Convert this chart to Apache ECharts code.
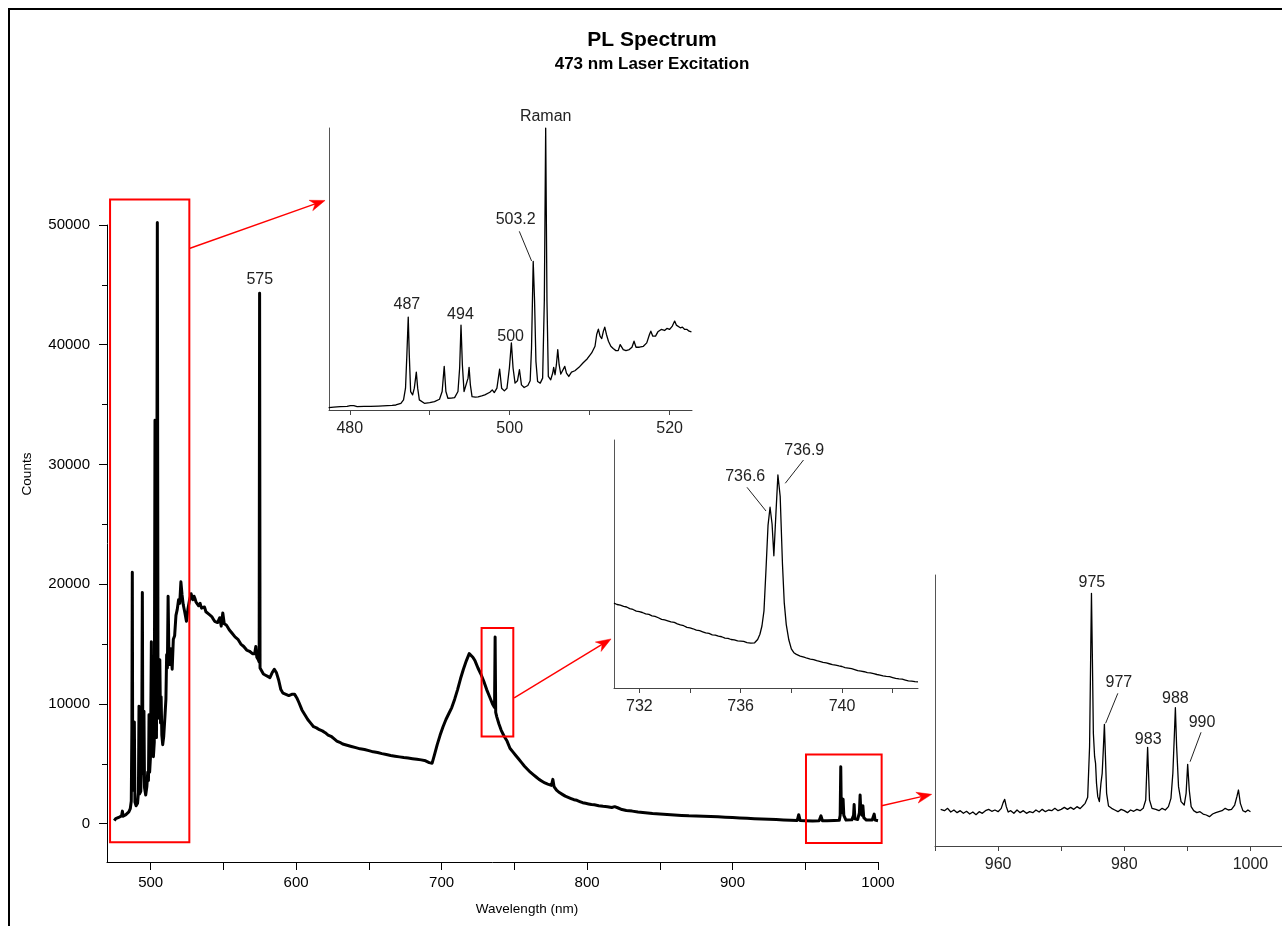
<!DOCTYPE html>
<html>
<head>
<meta charset="utf-8">
<title>PL Spectrum</title>
<script src="https://cdn.jsdelivr.net/npm/echarts@6/dist/echarts.min.js"></script>
<style>
  html, body { margin: 0; padding: 0; background: #ffffff; }
  #chart { width: 1282px; height: 926px; }
</style>
</head>
<body>
<div id="chart"></div>
<script>
// ---- Spectrum data: [wavelength (nm), counts] ----
const mainSpectrum = [
  [475.0,250],[476.0,420],[477.0,380],[478.0,520],[479.0,560],[480.0,650],[480.6,1050],[481.0,620],[482.0,700],[483.0,760],
  [484.0,880],[485.0,980],[486.0,1250],[486.7,1900],[487.1,8000],[487.4,21000],[487.7,3000],[488.3,2800],[488.8,8500],[489.2,1800],
  [490.0,1500],[491.0,1700],[491.6,2600],[492.0,9800],[492.4,2500],[493.2,2700],[493.8,4800],[494.3,19300],[494.7,4200],[495.1,5200],
  [495.4,9400],[495.8,3000],[496.6,2400],[497.4,3100],[498.0,4300],[498.5,3600],[498.9,9100],[499.3,4300],[499.9,5600],[500.5,15200],
  [500.9,6400],[501.4,9600],[501.9,5600],[502.5,6800],[503.0,33700],[503.4,7400],[504.0,7200],[504.6,50200],[505.1,8800],[505.5,12100],
  [505.9,9400],[506.3,13700],[506.8,8400],[507.2,10600],[507.7,7400],[508.3,6600],[509.0,7300],[509.8,8900],[510.5,10400],[511.0,14100],
  [511.5,13000],[512.0,19000],[512.5,14600],[513.3,13300],[514.0,14600],[514.8,12900],[515.6,15400],[516.5,15700],[517.4,17400],[518.3,17900],
  [519.2,18700],[520.0,18400],[520.8,20200],[521.6,19100],[522.4,18300],[523.4,17700],[524.6,16900],[525.6,17900],[526.6,18600],[527.8,19200],
  [529.0,18700],[529.8,19000],[530.5,18800],[531.2,18500],[532.0,18600],[533.0,18200],[534.0,18400],[535.0,18000],[536.0,17900],[537.0,18100],
  [538.0,17700],[539.0,17800],[540.0,17500],[541.0,17500],[542.0,17300],[543.0,17100],[544.0,16900],[545.0,17000],[546.0,16800],[547.0,16900],
  [547.5,17200],[548.5,16500],[549.6,17600],[550.6,16700],[551.3,16800],[552.0,16600],[553.0,16400],[554.0,16200],[555.0,16200],[556.0,15900],
  [557.0,15900],[558.0,15600],[559.0,15600],[560.0,15400],[561.0,15300],[562.0,15000],[563.0,15000],[564.0,14800],[565.0,14700],[566.0,14500],
  [567.0,14600],[568.0,14400],[569.0,14400],[570.0,14200],[571.5,14200],[572.3,14800],[573.0,13900],[574.0,13700],[574.6,13500],[574.9,44300],
  [575.2,13000],[576.0,12900],[577.5,12500],[579.0,12400],[580.5,12300],[582.0,12200],[583.5,12600],[585.0,12900],[586.5,12600],[588.0,12000],
  [589.5,11200],[591.0,10900],[593.0,10800],[595.0,10700],[597.0,10800],[599.0,10800],[600.5,10500],[602.0,10100],[604.0,9500],[606.0,9100],
  [608.0,8700],[610.0,8400],[612.0,8100],[614.0,8000],[616.0,7850],[618.0,7750],[620.0,7600],[622.0,7400],[624.0,7300],[626.0,7100],
  [628.0,6900],[630.0,6800],[632.0,6650],[635.0,6550],[638.0,6450],[641.0,6350],[644.0,6250],[647.0,6200],[650.0,6100],[653.0,6000],
  [656.0,5950],[659.0,5850],[662.0,5780],[665.0,5700],[668.0,5640],[671.0,5580],[674.0,5520],[677.0,5480],[680.0,5430],[683.0,5380],
  [686.0,5330],[689.0,5250],[691.5,5100],[693.5,5050],[695.0,5700],[697.0,6600],[699.0,7400],[701.0,8100],[703.0,8700],[705.0,9200],
  [707.0,9700],[709.0,10400],[711.0,11200],[713.0,12100],[715.0,12900],[717.0,13600],[719.0,14200],[720.2,14100],[721.5,13900],[723.0,13600],
  [725.0,13000],[727.0,12500],[729.0,11900],[731.0,11200],[733.0,10600],[735.0,10000],[736.4,9700],[736.8,15600],[737.2,9300],[738.0,8900],
  [739.5,8300],[741.0,7800],[743.0,7300],[745.0,6900],[747.0,6300],[749.0,6000],[751.0,5700],[753.0,5400],[755.0,5100],[757.0,4800],
  [759.0,4550],[761.0,4300],[763.0,4100],[765.0,3900],[767.0,3700],[769.0,3550],[771.0,3400],[773.0,3300],[775.5,3200],[776.5,3700],
  [777.3,3100],[779.0,2800],[781.0,2600],[783.0,2450],[785.0,2300],[787.0,2200],[789.0,2100],[791.0,2000],[793.0,1950],[795.0,1850],
  [797.0,1750],[799.0,1700],[801.0,1650],[803.0,1600],[805.0,1580],[808.0,1500],[811.0,1450],[814.0,1420],[817.0,1350],[819.0,1420],
  [821.0,1330],[824.0,1180],[827.0,1100],[831.0,1050],[835.0,980],[840.0,920],[845.0,850],[850.0,800],[855.0,760],[860.0,720],
  [865.0,690],[870.0,660],[875.0,650],[880.0,630],[885.0,600],[890.0,570],[895.0,540],[900.0,510],[905.0,480],[910.0,450],
  [915.0,420],[920.0,400],[925.0,370],[930.0,340],[935.0,310],[940.0,290],[944.5,270],[945.5,750],[946.5,260],[950.0,250],
  [955.0,230],[959.5,250],[960.8,650],[961.8,250],[965.0,240],[970.0,260],[973.4,280],[974.0,700],[974.4,4750],[974.8,900],
  [975.4,1600],[976.0,2050],[976.5,700],[978.0,300],[982.0,320],[983.2,700],[983.6,1600],[984.1,400],[986.0,350],[987.2,900],
  [987.7,2400],[988.2,1000],[989.0,700],[989.6,1500],[990.2,500],[992.0,300],[996.0,300],[997.4,800],[998.0,300],[1000.0,250]
];

// 477-523 nm detail (Raman line and emission lines)
const ramanRegion = [
  [477.35,420],[478.0,520],[478.8,600],[479.66,650],[480.08,770],[480.29,1010],[480.5,770],[480.92,600],[481.8,640],[482.6,660],
  [483.6,700],[484.7,770],[485.3,820],[485.76,890],[486.39,1190],[486.72,1790],[486.97,3870],[487.14,9820],[487.31,16480],[487.44,9820],
  [487.61,3270],[487.86,2680],[488.07,3870],[488.32,6720],[488.49,3870],[488.7,1790],[489.33,1190],[490.0,1300],[490.59,1490],[491.22,1900],
  [491.55,3270],[491.81,7740],[492.02,3270],[492.27,2080],[492.7,2100],[493.11,2200],[493.53,3270],[493.74,7440],[493.91,15050],[494.08,8030],
  [494.29,3270],[494.54,3570],[494.79,5650],[494.92,7560],[495.08,4460],[495.29,2380],[495.7,2300],[496.05,2320],[496.5,2500],[496.89,2680],
  [497.52,3150],[497.82,3570],[498.07,3090],[498.4,3870],[498.74,7260],[498.99,3870],[499.33,3390],[499.66,3870],[499.96,7440],[500.21,11900],
  [500.42,7440],[500.67,4760],[500.97,5180],[501.22,7140],[501.47,4460],[501.81,3990],[502.27,4340],[502.56,5180],[502.73,11000],[502.94,26360],
  [503.11,19340],[503.28,8630],[503.49,5060],[503.82,4760],[504.12,5650],[504.33,19340],[504.5,49980],[504.66,19340],[504.83,5950],[505.13,5360],
  [505.38,6550],[505.5,7560],[505.67,6250],[505.84,8030],[506.01,10710],[506.18,8030],[506.39,6370],[506.64,6550],[506.89,7740],[507.1,6550],
  [507.39,5950],[507.73,6720],[508.15,6960],[508.66,7560],[509.16,8330],[509.71,9100],[510.25,10120],[510.67,11300],[510.88,13390],[511.09,14340],
  [511.3,13090],[511.51,12670],[511.72,13980],[511.89,14700],[512.1,13390],[512.35,12200],[512.65,11300],[512.94,10890],[513.28,10530],[513.57,10530],
  [513.82,11600],[513.99,11720],[514.2,10710],[514.54,10530],[514.96,10710],[515.29,11130],[515.55,12200],[515.8,11130],[516.22,11130],[516.72,11300],
  [517.14,11900],[517.48,13390],[517.65,13980],[517.9,13090],[518.24,13090],[518.53,13860],[518.95,14280],[519.37,14100],[519.66,14460],[520.0,14280],
  [520.34,14880],[520.63,15770],[520.84,15050],[521.09,14880],[521.34,14580],[521.6,14700],[521.89,14280],[522.18,14280],[522.44,13980],[522.73,13860]
];

// 731-743 nm detail (doublet)
const doubletRegion = [
  [731.0,10080],[731.12,10030],[731.25,10010],[731.38,9960],[731.5,9940],[731.62,9880],[731.75,9850],[731.88,9790],[732.0,9770],[732.12,9740],
  [732.25,9690],[732.38,9670],[732.5,9620],[732.62,9600],[732.75,9550],[732.88,9490],[733.0,9470],[733.12,9440],[733.25,9400],[733.38,9380],
  [733.5,9330],[733.62,9290],[733.75,9260],[733.88,9200],[734.0,9180],[734.12,9150],[734.25,9100],[734.38,9080],[734.5,9040],[734.62,9000],
  [734.75,8980],[734.88,8930],[735.0,8920],[735.12,8880],[735.25,8860],[735.38,8810],[735.5,8800],[735.62,8760],[735.75,8750],[735.88,8710],
  [736.0,8700],[736.12,8690],[736.25,8650],[736.4,8630],[736.55,8640],[736.67,8760],[736.76,8950],[736.84,9250],[736.92,9800],[737.0,11300],
  [737.08,12900],[737.16,13560],[737.24,12950],[737.31,11800],[737.39,13300],[737.47,14730],[737.56,13950],[737.65,11500],[737.72,10100],[737.8,9300],
  [737.9,8750],[738.0,8420],[738.1,8280],[738.2,8220],[738.35,8160],[738.5,8120],[738.62,8080],[738.75,8050],[738.88,8030],[739.0,7990],
  [739.12,7970],[739.25,7930],[739.38,7910],[739.5,7880],[739.62,7850],[739.75,7830],[739.88,7800],[740.0,7780],[740.12,7740],[740.25,7720],
  [740.38,7700],[740.5,7670],[740.62,7630],[740.75,7610],[740.88,7590],[741.0,7560],[741.12,7550],[741.25,7520],[741.38,7490],[741.5,7470],
  [741.62,7440],[741.75,7420],[741.88,7410],[742.0,7380],[742.12,7350],[742.25,7330],[742.38,7320],[742.5,7290],[742.62,7260],[742.75,7250],
  [742.88,7230],[743.0,7220]
];

// 951-1000 nm detail (near-infrared lines)
const nirRegion = [
  [950.9,676],[951.5,652],[952.0,695],[952.5,627],[953.0,664],[953.5,615],[954.0,652],[954.5,603],[955.0,640],[955.5,590],
  [956.0,627],[956.5,578],[957.0,633],[957.5,603],[958.0,652],[958.5,676],[959.0,640],[959.5,664],[960.0,633],[960.5,695],
  [960.8,800],[961.05,861],[961.3,726],[961.6,627],[962.0,652],[962.5,603],[963.0,664],[963.5,615],[964.0,652],[964.5,603],
  [965.0,633],[965.5,615],[966.0,664],[966.5,627],[967.0,676],[967.5,633],[968.0,664],[968.5,652],[969.0,695],[969.5,652],
  [970.0,676],[970.5,713],[971.0,676],[971.5,713],[972.0,676],[972.5,726],[973.0,689],[973.4,738],[973.8,787],[974.2,898],
  [974.5,1833],[974.7,3739],[974.8,4662],[974.95,3432],[975.1,2079],[975.3,1648],[975.45,1525],[975.6,1156],[975.8,910],[976.05,818],
  [976.3,1156],[976.5,1341],[976.7,1833],[976.85,2245],[977.0,1710],[977.2,972],[977.5,738],[978.0,695],[978.5,664],[979.0,633],
  [979.5,676],[980.0,652],[980.5,615],[981.0,664],[981.5,640],[982.0,676],[982.5,652],[983.0,695],[983.4,849],[983.7,1820],
  [984.0,849],[984.4,695],[985.0,676],[985.5,652],[986.0,695],[986.5,664],[987.0,726],[987.4,879],[987.7,1341],[987.95,2079],
  [988.1,2552],[988.3,1833],[988.6,1095],[989.0,818],[989.5,756],[989.8,972],[990.05,1507],[990.3,1033],[990.6,726],[991.0,652],
  [991.5,615],[992.0,633],[992.5,590],[993.0,572],[993.5,541],[994.0,590],[994.5,615],[995.0,633],[995.5,652],[996.0,695],
  [996.5,664],[997.0,676],[997.5,756],[997.85,910],[998.1,1033],[998.4,787],[998.8,652],[999.2,627],[999.6,664],[1000.0,633]
];

// ---- Tick values ----
const mainXTicks  = [500, 550, 600, 650, 700, 750, 800, 850, 900, 950, 1000];
const mainXLabels = [500, 600, 700, 800, 900, 1000];
const mainYLabels = [0, 10000, 20000, 30000, 40000, 50000];
const mainYMinor  = [5000, 15000, 25000, 35000, 45000];
const ramanXTicks  = [480, 490, 500, 510, 520];
const ramanXLabels = [480, 500, 520];
const doubletXTicks  = [732, 734, 736, 738, 740, 742];
const doubletXLabels = [732, 736, 740];
const nirXTicks  = [950, 960, 970, 980, 990, 1000];
const nirXLabels = [960, 980, 1000];

// ---- Peak annotations ----
const mainPeakText    = ['575'];
const ramanPeakText   = ['Raman', '503.2', '500', '494', '487'];
const doubletPeakText = ['736.6', '736.9'];
const nirPeakText     = ['975', '977', '983', '988', '990'];

const FONT = "'Liberation Sans', Arial, Helvetica, sans-serif";

function valueAxis(o) {
  return {
    type: 'value',
    gridIndex: o.grid,
    min: o.min,
    max: o.max,
    position: o.position,
    axisLine: { show: o.line !== false, onZero: false, lineStyle: { color: o.color, width: 1 } },
    axisTick: {
      show: !!o.ticks, inside: false, length: o.tickLength || 8,
      customValues: o.ticks, lineStyle: { color: o.color, width: 1 }
    },
    axisLabel: {
      show: !!o.labels, customValues: o.labels, margin: o.margin,
      fontSize: o.fontSize, fontFamily: FONT, color: o.labelColor,
      formatter: function (v) { return String(v); }
    },
    splitLine: { show: false },
    splitArea: { show: false }
  };
}

function lineSeries(xi, yi, data, width) {
  return {
    type: 'line',
    xAxisIndex: xi,
    yAxisIndex: yi,
    data: data,
    showSymbol: false,
    symbol: 'none',
    clip: false,
    silent: true,
    animation: false,
    lineStyle: { color: '#000000', width: width, join: 'round' }
  };
}

const chart = echarts.init(document.getElementById('chart'), null, { renderer: 'canvas', width: 1282, height: 926 });

const option = {
  backgroundColor: '#ffffff',
  animation: false,
  grid: [
    { left: 107, top: 225, width: 771, height: 637 },   // main spectrum
    { left: 329, top: 128, width: 363, height: 282 },   // 477-523 nm
    { left: 614, top: 440, width: 304, height: 248 },   // 731-743 nm
    { left: 935, top: 575, width: 348, height: 271 }    // 950-1005 nm
  ],
  xAxis: [
    valueAxis({ grid: 0, min: 470, max: 1000, color: '#000', ticks: mainXTicks, labels: mainXLabels, tickLength: 8, margin: 13, fontSize: 15, labelColor: '#000' }),
    valueAxis({ grid: 1, min: 477.4, max: 522.8, color: '#444', ticks: ramanXTicks, labels: ramanXLabels, tickLength: 5, margin: 11, fontSize: 16, labelColor: '#222' }),
    valueAxis({ grid: 2, min: 731, max: 743, color: '#444', ticks: doubletXTicks, labels: doubletXLabels, tickLength: 5, margin: 11, fontSize: 16, labelColor: '#222' }),
    valueAxis({ grid: 3, min: 950, max: 1005, color: '#444', ticks: nirXTicks, labels: nirXLabels, tickLength: 5, margin: 11, fontSize: 16, labelColor: '#222' })
  ],
  yAxis: [
    valueAxis({ grid: 0, min: -3200, max: 50000, position: 'left', color: '#000', ticks: mainYLabels, labels: mainYLabels, tickLength: 8, margin: 17, fontSize: 15, labelColor: '#000' }),
    valueAxis({ grid: 0, min: -3200, max: 50000, position: 'left', line: false, color: '#000', ticks: mainYMinor, tickLength: 5 }),
    valueAxis({ grid: 1, min: 0, max: 50000, position: 'left', color: '#555' }),
    valueAxis({ grid: 2, min: 7000, max: 16000, position: 'left', color: '#555' }),
    valueAxis({ grid: 3, min: 0, max: 5000, position: 'left', color: '#555' })
  ],
  series: [
    lineSeries(0, 0, mainSpectrum, 3),
    lineSeries(1, 2, ramanRegion, 1.3),
    lineSeries(2, 3, doubletRegion, 1.3),
    lineSeries(3, 4, nirRegion, 1.3)
  ]
};

chart.setOption(option);

// ---- Annotations placed through the axes' own scales ----
const MAIN = [0, 0], RAMAN = [1, 2], DOUBLET = [2, 3], NIR = [3, 4];
function px(axes, p) {
  return chart.convertToPixel({ xAxisIndex: axes[0], yAxisIndex: axes[1] }, p);
}

// highlighted ranges and the arrows that lead to their detail plots
const zoomBoxes = [
  { from: [472.1, 52130], to: [526.6, -1560] },
  { from: [727.5, 16350], to: [749.3, 7290] },
  { from: [950.5, 5770],  to: [1002.5, -1610] }
];
const zoomArrows = [
  { from: [526.6, 48040], to: [619.9, 52050] },
  { from: [749.9, 10500], to: [816.5, 15430] },
  { from: [1002.5, 1500], to: [1036.9, 2450] }
];

// label anchors in each plot's data units
const labelSpots = [
  { axes: MAIN,    at: [575, 45450],       text: mainPeakText[0] },
  { axes: RAMAN,   at: [504.5, 51950],     text: ramanPeakText[0] },
  { axes: RAMAN,   at: [500.75, 33690],    text: ramanPeakText[1] },
  { axes: RAMAN,   at: [500.12, 12940],    text: ramanPeakText[2] },
  { axes: RAMAN,   at: [493.84, 16930],    text: ramanPeakText[3] },
  { axes: RAMAN,   at: [487.14, 18620],    text: ramanPeakText[4] },
  { axes: DOUBLET, at: [736.18, 14668],    text: doubletPeakText[0] },
  { axes: DOUBLET, at: [738.51, 15601],    text: doubletPeakText[1] },
  { axes: NIR,     at: [974.87, 4858],     text: nirPeakText[0] },
  { axes: NIR,     at: [979.14, 3013],     text: nirPeakText[1] },
  { axes: NIR,     at: [983.79, 1956],     text: nirPeakText[2] },
  { axes: NIR,     at: [988.1, 2725],      text: nirPeakText[3] },
  { axes: NIR,     at: [992.32, 2275],     text: nirPeakText[4] }
];
const leaderLines = [
  { axes: RAMAN,   from: [501.2, 31680],  to: [502.74, 26420] },
  { axes: DOUBLET, from: [736.25, 14283], to: [737.0, 13423] },
  { axes: DOUBLET, from: [738.48, 15274], to: [737.76, 14429] },
  { axes: NIR,     from: [978.98, 2817],  to: [977.04, 2264] },
  { axes: NIR,     from: [992.17, 2098],  to: [990.43, 1555] }
];

const graphics = [];

// outer frame
graphics.push({
  type: 'rect', z: 100, silent: true,
  shape: { x: 9, y: 9, width: 1300, height: 1000 },
  style: { fill: 'none', stroke: '#000', lineWidth: 2 }
});

// titles
graphics.push({
  type: 'text', z: 100, silent: true, x: 652, y: 40,
  style: { text: 'PL Spectrum', font: 'bold 21px ' + FONT, fill: '#000', align: 'center', verticalAlign: 'middle' }
});
graphics.push({
  type: 'text', z: 100, silent: true, x: 652, y: 64,
  style: { text: '473 nm Laser Excitation', font: 'bold 17px ' + FONT, fill: '#000', align: 'center', verticalAlign: 'middle' }
});

// axis titles
graphics.push({
  type: 'text', z: 100, silent: true, x: 27, y: 474, rotation: Math.PI / 2,
  style: { text: 'Counts', font: '13.5px ' + FONT, fill: '#000', align: 'center', verticalAlign: 'middle' }
});
graphics.push({
  type: 'text', z: 100, silent: true, x: 527, y: 909,
  style: { text: 'Wavelength (nm)', font: '13.5px ' + FONT, fill: '#000', align: 'center', verticalAlign: 'middle' }
});

zoomBoxes.forEach(function (b) {
  const a = px(MAIN, b.from), c = px(MAIN, b.to);
  graphics.push({
    type: 'rect', z: 90, silent: true,
    shape: { x: Math.min(a[0], c[0]), y: Math.min(a[1], c[1]), width: Math.abs(c[0] - a[0]), height: Math.abs(c[1] - a[1]) },
    style: { fill: 'none', stroke: '#ff0000', lineWidth: 2 }
  });
});

zoomArrows.forEach(function (ar) {
  const s = px(MAIN, ar.from), e = px(MAIN, ar.to);
  const dx = e[0] - s[0], dy = e[1] - s[1];
  const len = Math.sqrt(dx * dx + dy * dy);
  const ux = dx / len, uy = dy / len, nx = -uy, ny = ux;
  const L = 15, W = 5.5;
  const bx = e[0] - ux * L, by = e[1] - uy * L;
  const notchX = e[0] - ux * L * 0.7, notchY = e[1] - uy * L * 0.7;
  graphics.push({
    type: 'line', z: 90, silent: true,
    shape: { x1: s[0], y1: s[1], x2: notchX, y2: notchY },
    style: { stroke: '#ff0000', lineWidth: 1.4 }
  });
  graphics.push({
    type: 'polygon', z: 90, silent: true,
    shape: { points: [[e[0], e[1]], [bx + nx * W, by + ny * W], [notchX, notchY], [bx - nx * W, by - ny * W]] },
    style: { fill: '#ff0000', stroke: '#ff0000', lineWidth: 0.5 }
  });
});

labelSpots.forEach(function (l) {
  const p = px(l.axes, l.at);
  graphics.push({
    type: 'text', z: 100, silent: true, x: p[0], y: p[1],
    style: { text: l.text, font: '16px ' + FONT, fill: '#222', align: 'center', verticalAlign: 'middle' }
  });
});

leaderLines.forEach(function (l) {
  const a = px(l.axes, l.from), b = px(l.axes, l.to);
  graphics.push({
    type: 'line', z: 100, silent: true,
    shape: { x1: a[0], y1: a[1], x2: b[0], y2: b[1] },
    style: { stroke: '#222', lineWidth: 1 }
  });
});

chart.setOption({ graphic: graphics });
</script>
</body>
</html>
